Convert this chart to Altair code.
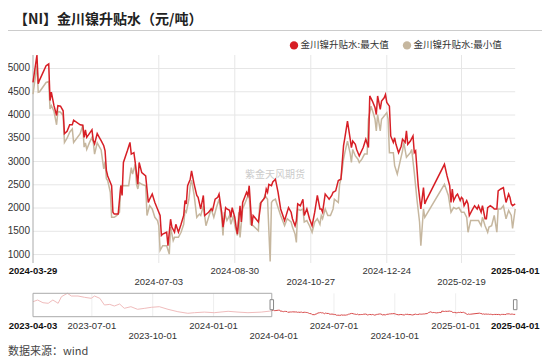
import altair as alt
import pandas as pd

# ---------------- data ----------------
max_dates = ["2024-03-29","2024-04-01","2024-04-02","2024-04-03","2024-04-08","2024-04-10","2024-04-11","2024-04-12","2024-04-14","2024-04-16",
"2024-04-17","2024-04-19","2024-04-21","2024-04-22","2024-04-24","2024-04-26","2024-04-28","2024-04-29","2024-05-04","2024-05-06",
"2024-05-07","2024-05-08","2024-05-09","2024-05-11","2024-05-13","2024-05-14","2024-05-15","2024-05-17","2024-05-19","2024-05-20",
"2024-05-22","2024-05-23","2024-05-24","2024-05-25","2024-05-28","2024-05-29","2024-05-30","2024-06-02","2024-06-04","2024-06-05",
"2024-06-06","2024-06-09","2024-06-11","2024-06-12","2024-06-14","2024-06-15","2024-06-17","2024-06-18","2024-06-20","2024-06-23",
"2024-06-25","2024-06-26","2024-06-28","2024-06-30","2024-07-02","2024-07-04","2024-07-05","2024-07-06","2024-07-09","2024-07-10",
"2024-07-12","2024-07-13","2024-07-15","2024-07-16","2024-07-18","2024-07-20","2024-07-22","2024-07-23","2024-07-24","2024-07-25",
"2024-07-27","2024-07-28","2024-07-30","2024-08-01","2024-08-02","2024-08-04","2024-08-06","2024-08-07","2024-08-10","2024-08-12",
"2024-08-13","2024-08-15","2024-08-17","2024-08-18","2024-08-20","2024-08-21","2024-08-22","2024-08-23","2024-08-24","2024-08-26",
"2024-08-27","2024-08-28","2024-08-30","2024-08-31","2024-09-01","2024-09-03","2024-09-04","2024-09-05","2024-09-08","2024-09-09",
"2024-09-10","2024-09-12","2024-09-13","2024-09-17","2024-09-18","2024-09-19","2024-09-22","2024-09-23","2024-09-24","2024-09-25",
"2024-09-27","2024-09-28","2024-09-30","2024-10-02","2024-10-04","2024-10-07","2024-10-10","2024-10-12","2024-10-13","2024-10-15",
"2024-10-16","2024-10-17","2024-10-19","2024-10-21","2024-10-22","2024-10-24","2024-10-26","2024-10-28","2024-10-30","2024-11-01",
"2024-11-03","2024-11-04","2024-11-05","2024-11-07","2024-11-09","2024-11-10","2024-11-12","2024-11-13","2024-11-15","2024-11-17",
"2024-11-19","2024-11-21","2024-11-22","2024-11-24","2024-11-26","2024-11-27","2024-11-28","2024-11-30","2024-12-01","2024-12-03",
"2024-12-06","2024-12-08","2024-12-10","2024-12-11","2024-12-13","2024-12-15","2024-12-16","2024-12-17","2024-12-19","2024-12-20",
"2024-12-22","2024-12-23","2024-12-24","2024-12-26","2024-12-27","2024-12-29","2024-12-30","2024-12-31","2025-01-02","2025-01-04",
"2025-01-05","2025-01-07","2025-01-08","2025-01-09","2025-01-11","2025-01-13","2025-01-14","2025-01-15","2025-01-17","2025-01-19",
"2025-01-21","2025-01-22","2025-01-23","2025-02-06","2025-02-08","2025-02-10","2025-02-11","2025-02-12","2025-02-13","2025-02-15",
"2025-02-16","2025-02-18","2025-02-19","2025-02-20","2025-02-21","2025-02-23","2025-02-24","2025-02-25","2025-02-27","2025-03-01",
"2025-03-03","2025-03-04","2025-03-06","2025-03-07","2025-03-09","2025-03-10","2025-03-11","2025-03-13","2025-03-15","2025-03-16",
"2025-03-18","2025-03-19","2025-03-21","2025-03-23","2025-03-24","2025-03-25","2025-03-27","2025-03-28","2025-03-29","2025-03-30",
"2025-04-01"]
max_values = [4700,5290,4670,4750,5060,5100,4310,4490,4200,3990,
4200,4190,4090,3600,3650,3790,3790,3890,3790,3780,
3520,3680,3520,3600,3680,3450,3380,3600,3500,3450,
3340,3230,2810,2690,2480,1910,1870,1870,2480,2270,
2980,3230,3410,3160,3190,2980,2510,2980,2760,2690,
2120,2190,2300,2120,1980,1840,1410,1440,1480,1190,
1760,1590,1480,1650,1480,1650,1840,2160,2090,2480,
2620,2800,2510,2270,2230,1980,2270,1840,1910,1980,
1950,2190,2230,2300,1910,1590,1770,2010,1980,1950,
1800,2010,1800,1590,1440,2050,1700,2120,2340,2270,
2480,1620,1840,1700,1910,2120,2230,2410,2340,2510,
2480,2560,2620,2340,1980,1730,2010,1910,1770,1620,
1730,2090,2050,2190,1840,1980,1770,1620,1910,2270,
1980,1980,1910,2300,2230,2190,2270,2340,2370,2590,
2620,3340,3510,3870,3500,3300,3440,3370,3260,3120,
3300,3480,3300,4410,4300,4160,4010,4410,4120,4300,
4370,4440,4270,4190,3550,3410,3510,3370,3190,3330,
3480,3410,3660,3370,3440,3550,3190,3230,2480,1980,
2440,2090,2160,2940,2690,2480,2120,2410,2160,2270,
2300,2160,2230,2200,2050,2160,2090,1840,1950,2050,
1980,2050,1910,2050,1770,1770,2010,2050,2010,1980,
1980,2370,2410,2440,2270,2120,2300,2230,2090,2050,
2090]

min_dates = ["2024-03-29","2024-04-01","2024-04-02","2024-04-03","2024-04-08","2024-04-10","2024-04-11","2024-04-12","2024-04-14","2024-04-16",
"2024-04-17","2024-04-19","2024-04-21","2024-04-22","2024-04-24","2024-04-26","2024-04-28","2024-04-29","2024-05-04","2024-05-06",
"2024-05-07","2024-05-08","2024-05-09","2024-05-11","2024-05-13","2024-05-14","2024-05-15","2024-05-17","2024-05-19","2024-05-20",
"2024-05-22","2024-05-23","2024-05-24","2024-05-25","2024-05-27","2024-05-28","2024-05-30","2024-06-01","2024-06-03","2024-06-04",
"2024-06-07","2024-06-10","2024-06-12","2024-06-13","2024-06-15","2024-06-16","2024-06-17","2024-06-18","2024-06-20","2024-06-23",
"2024-06-24","2024-06-26","2024-06-28","2024-06-30","2024-07-02","2024-07-03","2024-07-04","2024-07-06","2024-07-09","2024-07-11",
"2024-07-12","2024-07-14","2024-07-15","2024-07-18","2024-07-20","2024-07-22","2024-07-23","2024-07-24","2024-07-26","2024-07-27",
"2024-07-28","2024-07-30","2024-08-01","2024-08-03","2024-08-04","2024-08-06","2024-08-08","2024-08-10","2024-08-12","2024-08-14",
"2024-08-16","2024-08-18","2024-08-20","2024-08-21","2024-08-22","2024-08-24","2024-08-26","2024-08-27","2024-08-29","2024-08-30",
"2024-09-01","2024-09-02","2024-09-03","2024-09-05","2024-09-08","2024-09-10","2024-09-11","2024-09-13","2024-09-17","2024-09-18",
"2024-09-21","2024-09-22","2024-09-24","2024-09-26","2024-09-27","2024-09-28","2024-09-30","2024-10-02","2024-10-04","2024-10-07",
"2024-10-09","2024-10-12","2024-10-13","2024-10-15","2024-10-16","2024-10-17","2024-10-19","2024-10-21","2024-10-22","2024-10-24",
"2024-10-26","2024-10-28","2024-10-30","2024-11-01","2024-11-03","2024-11-04","2024-11-05","2024-11-07","2024-11-09","2024-11-11",
"2024-11-13","2024-11-14","2024-11-17","2024-11-18","2024-11-19","2024-11-21","2024-11-22","2024-11-24","2024-11-26","2024-11-27",
"2024-11-28","2024-11-30","2024-12-02","2024-12-03","2024-12-05","2024-12-07","2024-12-09","2024-12-10","2024-12-12","2024-12-14",
"2024-12-15","2024-12-16","2024-12-17","2024-12-19","2024-12-20","2024-12-22","2024-12-24","2024-12-25","2024-12-26","2024-12-29",
"2024-12-30","2025-01-01","2025-01-03","2025-01-05","2025-01-06","2025-01-08","2025-01-11","2025-01-12","2025-01-14","2025-01-16",
"2025-01-18","2025-01-19","2025-01-21","2025-01-22","2025-02-06","2025-02-09","2025-02-11","2025-02-13","2025-02-15","2025-02-17",
"2025-02-19","2025-02-21","2025-02-23","2025-02-24","2025-02-26","2025-03-01","2025-03-04","2025-03-06","2025-03-07","2025-03-09",
"2025-03-11","2025-03-12","2025-03-14","2025-03-16","2025-03-18","2025-03-19","2025-03-21","2025-03-23","2025-03-25","2025-03-27",
"2025-03-29","2025-03-30","2025-04-01"]
min_values = [4450,5060,4490,4500,4700,4720,4130,4200,4080,3790,
4080,4060,3990,3410,3500,3630,3700,3410,3600,3780,
3310,3400,3260,3400,3520,3420,3160,3400,3300,3250,
2840,3000,2630,2590,2340,1800,1800,1840,1910,2480,
2480,2480,2870,2730,2940,2510,2410,2550,2510,2480,
1840,2050,1980,1800,1730,1620,1090,1190,1190,1010,
1590,1300,1370,1370,1480,1650,1950,1910,2190,2480,
2600,2270,1800,1870,1840,2050,1620,1800,1980,1800,
2010,2190,1800,1410,1910,1730,1840,1650,1840,1620,
1410,1910,1370,1980,2190,2340,1650,1620,1510,2090,
2190,2270,2190,850,2120,2160,2190,2010,1840,1620,
1770,1700,1590,1440,1260,1980,1950,1980,1700,1730,
1620,1480,1700,1770,1650,1840,1770,1980,1840,1840,
1980,2190,2120,2510,2620,3050,3190,3440,3180,2980,
3260,3120,3050,2980,3050,3160,3160,3910,4190,4010,
3910,3660,4010,3660,3910,3980,4050,3910,3190,3190,
2910,2730,2980,3230,3410,3090,3190,3260,2760,2190,
1700,1190,1980,1800,2510,2270,1910,2010,1980,2010,
1910,1910,1800,1480,1730,1730,1730,1620,1800,1620,
1480,1590,1620,1840,1480,1980,1980,2050,1770,1950,
1840,1560,1980]

# overview (navigator) history before the main window
nav_dates = ["2023-04-03","2023-04-10","2023-04-18","2023-04-26","2023-05-03","2023-05-11","2023-05-16","2023-05-25","2023-05-31","2023-06-10",
"2023-06-20","2023-06-30","2023-07-05","2023-07-13","2023-07-20","2023-07-28","2023-08-04","2023-08-12","2023-08-19","2023-08-29",
"2023-09-08","2023-09-19","2023-09-29","2023-10-11","2023-10-24","2023-11-08","2023-11-23","2023-12-03","2023-12-18","2024-01-02",
"2024-01-23","2024-02-07","2024-02-22","2024-03-13","2024-03-26"]
nav_values = [11150,12370,10440,10000,12370,10000,14740,17180,15240,15240,
14300,13590,15240,13590,8790,9230,8070,9500,6420,7570,
5700,6420,7140,7570,5700,3980,2840,3270,3700,3270,
4270,3700,3270,3700,4400]

y_ticks = [1000, 1500, 2000, 2500, 3000, 3500, 4000, 4500, 5000]
x_grid = ["2024-07-03", "2024-08-30", "2024-10-27", "2024-12-24", "2025-02-19"]
x_labels_row1 = ["2024-08-30", "2024-12-24"]
x_labels_row2 = ["2024-07-03", "2024-10-27", "2025-02-19"]
x_labels_bold = ["2024-03-29", "2025-04-01"]
nav_labels_row1 = ["2023-07-01", "2024-01-01", "2024-07-01", "2025-01-01"]
nav_labels_row2 = ["2023-10-01", "2024-04-01", "2024-10-01"]
nav_labels_bold = ["2023-04-03", "2025-04-01"]
nav_grid = ["2023-07-01", "2023-10-01", "2024-01-01", "2024-07-01", "2024-10-01", "2025-01-01"]
window = {"start": ["2023-04-03"], "end": ["2024-03-29"]}
handles = ["2024-03-29", "2025-04-01"]

series_names = ["金川镍升贴水:最大值", "金川镍升贴水:最小值"]
title_text = "【NI】金川镍升贴水（元/吨）"
source_text = "数据来源：wind"
watermark = "紫金天风期货"

# ---------------- style ----------------
FONT = "Liberation Sans, Noto Sans CJK SC, sans-serif"
CJK = "Noto Sans CJK SC"
RED = "#d71f26"
BEIGE = "#c6b79f"
W, H = 534, 349
PL, PR, PT, PB = 25, 507.2, 47, 254
NT, NB = 285.3, 308.7
DATE_FS = 9.5


def dt(s):
    y, m, d = (int(p) for p in s.split("-"))
    return alt.DateTime(year=y, month=m, date=d, utc=True)


main_x = alt.Scale(type="utc", domain=[dt("2024-03-29"), dt("2025-04-01")], range=[PL, PR], nice=False)
main_y = alt.Scale(domain=[840, 5290], range=[PB, PT], nice=False, zero=False)
nav_x = alt.Scale(type="utc", domain=[dt("2023-04-03"), dt("2025-04-01")], range=[PL, PR], nice=False)
nav_y = alt.Scale(domain=[900, 17500], range=[308, 284.85], nice=False, zero=False)

df_max = pd.DataFrame({"date": max_dates, "value": max_values})
df_min = pd.DataFrame({"date": min_dates, "value": min_values})
df_nav = pd.concat([pd.DataFrame({"date": nav_dates, "value": nav_values}), df_max.iloc[:1]])


def xs(scale):
    return alt.X("date:T", scale=scale, axis=None)


def date_text(dates, scale, y, bold=False):
    return alt.Chart(pd.DataFrame({"date": dates})).mark_text(
        align="center", baseline="middle", font=FONT, fontSize=DATE_FS,
        fontWeight="bold" if bold else "normal", color="#111111" if bold else "#333333").encode(
        x=xs(scale), y=alt.value(y), text=alt.Text("date:T", format="%Y-%m-%d"))


layers = []

# grid
layers.append(alt.Chart(pd.DataFrame({"v": y_ticks})).mark_rule(color="#e6e6e6", strokeWidth=1).encode(
    y=alt.Y("v:Q", scale=main_y, axis=None), x=alt.value(PL), x2=alt.value(PR)))
layers.append(alt.Chart(pd.DataFrame({"date": x_grid})).mark_rule(color="#e6e6e6", strokeWidth=1).encode(
    x=xs(main_x), y=alt.value(PT), y2=alt.value(PB + 1)))
layers.append(alt.Chart(pd.DataFrame({"date": x_labels_bold[:1]})).mark_rule(color="#aaaaaa", strokeWidth=1).encode(
    x=xs(main_x), y=alt.value(PT), y2=alt.value(PB + 1)))

# y labels
layers.append(alt.Chart(pd.DataFrame({"v": y_ticks})).mark_text(
    align="right", baseline="middle", font=FONT, fontSize=10, color="#333333").encode(
    y=alt.Y("v:Q", scale=main_y, axis=None), x=alt.value(PL - 3), text="v:Q"))

# x labels
layers.append(date_text(x_labels_row1, main_x, 263.3))
layers.append(date_text(x_labels_row2, main_x, 274))
layers.append(date_text(x_labels_bold, main_x, 263.3, bold=True))

# watermark
layers.append(alt.Chart(pd.DataFrame({"t": [watermark]})).mark_text(
    font=CJK, fontSize=10, color="#cccccc", align="center", baseline="middle").encode(
    x=alt.value(267), y=alt.value(167), text="t:N"))

# series
layers.append(alt.Chart(df_min).mark_line(color=BEIGE, strokeWidth=1.5).encode(
    x=xs(main_x), y=alt.Y("value:Q", scale=main_y, axis=None)))
layers.append(alt.Chart(df_max).mark_line(color=RED, strokeWidth=1.5).encode(
    x=xs(main_x), y=alt.Y("value:Q", scale=main_y, axis=None)))

# navigator
layers.append(alt.Chart(pd.DataFrame({"date": nav_grid})).mark_rule(color="#eeeeee", strokeWidth=1).encode(
    x=xs(nav_x), y=alt.value(NT), y2=alt.value(NB)))
layers.append(alt.Chart(df_nav).mark_line(color="#f0bcbc", strokeWidth=1).encode(
    x=xs(nav_x), y=alt.Y("value:Q", scale=nav_y, axis=None)))
layers.append(alt.Chart(df_max).mark_line(color="#d84a4a", strokeWidth=1).encode(
    x=xs(nav_x), y=alt.Y("value:Q", scale=nav_y, axis=None)))
layers.append(alt.Chart(pd.DataFrame(window)).mark_rect(
    fillOpacity=0, stroke="#aaaaaa", strokeWidth=1).encode(
    x=alt.X("start:T", scale=nav_x, axis=None), x2="end:T", y=alt.value(NT), y2=alt.value(NB)))
layers.append(alt.Chart(pd.DataFrame({"date": handles})).mark_point(
    shape="M-0.35,-1 L0.35,-1 L0.35,1 L-0.35,1 Z", size=100, filled=True, fill="white",
    stroke="#888888", strokeWidth=1, opacity=1).encode(
    x=xs(nav_x), y=alt.value(296.7)))

layers.append(date_text(nav_labels_row1, nav_x, 318.3))
layers.append(date_text(nav_labels_row2, nav_x, 328.2))
layers.append(date_text(nav_labels_bold, nav_x, 318.3, bold=True))

# title, separator, legend, source
layers.append(alt.Chart(pd.DataFrame({"t": [title_text]})).mark_text(
    font=CJK, fontSize=14, fontWeight="bold", color="#222222", align="left", baseline="middle").encode(
    x=alt.value(6), y=alt.value(11.5), text="t:N"))
layers.append(alt.Chart(pd.DataFrame({"t": [0]})).mark_rule(color="#cccccc", strokeWidth=1).encode(
    x=alt.value(0), x2=alt.value(W), y=alt.value(22.5)))
layers.append(alt.Chart(pd.DataFrame({"t": [0]})).mark_point(
    shape="circle", size=70, filled=True, color=RED, opacity=1).encode(x=alt.value(286), y=alt.value(37.4)))
layers.append(alt.Chart(pd.DataFrame({"t": [series_names[0]]})).mark_text(
    font=CJK, fontSize=9.5, color="#333333", align="left", baseline="middle").encode(
    x=alt.value(292.5), y=alt.value(37.4), text="t:N"))
layers.append(alt.Chart(pd.DataFrame({"t": [0]})).mark_point(
    shape="circle", size=70, filled=True, color=BEIGE, opacity=1).encode(x=alt.value(399), y=alt.value(37.4)))
layers.append(alt.Chart(pd.DataFrame({"t": [series_names[1]]})).mark_text(
    font=CJK, fontSize=9.5, color="#333333", align="left", baseline="middle").encode(
    x=alt.value(405.5), y=alt.value(37.4), text="t:N"))
layers.append(alt.Chart(pd.DataFrame({"t": [source_text]})).mark_text(
    font=CJK, fontSize=11, color="#444444", align="left", baseline="middle").encode(
    x=alt.value(0), y=alt.value(H - 5), text="t:N"))

chart = alt.layer(*layers).resolve_scale(x="independent", y="independent").properties(
    width=W, height=H, autosize=alt.AutoSizeParams(type="none"), padding=0
).configure_view(strokeWidth=0)

chart.save("out.html", embed_options={"renderer": "svg", "actions": False})
